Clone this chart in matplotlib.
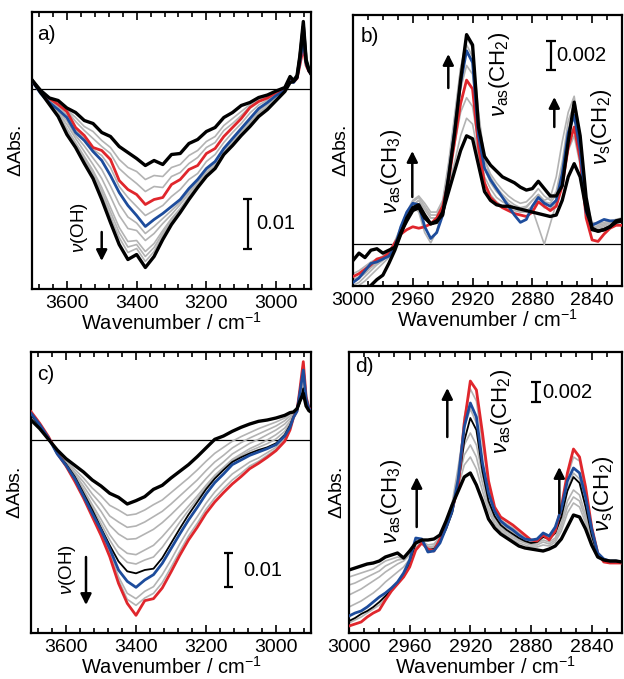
import matplotlib
matplotlib.use("Agg")
import matplotlib.pyplot as plt
from matplotlib.ticker import MultipleLocator
from matplotlib.patches import FancyArrowPatch

# ---------------------------------------------------------------
# Spectra, absorbance in units of 1e-3
# ---------------------------------------------------------------
WN_OH = [3700, 3675, 3650, 3625, 3600, 3575, 3550, 3525, 3500, 3475,
         3450, 3425, 3400, 3375, 3350, 3325, 3300, 3275, 3250, 3225,
         3200, 3175, 3150, 3125, 3100, 3075, 3050, 3025, 3000, 2975,
         2960, 2950, 2940, 2932, 2922, 2914, 2906, 2900]

WN_CH = [3000, 2996, 2992, 2988, 2984, 2980, 2976, 2972, 2968, 2964,
         2960, 2956, 2952, 2948, 2944, 2940, 2936, 2932, 2928, 2924,
         2920, 2916, 2912, 2908, 2904, 2900, 2896, 2892, 2888, 2884,
         2880, 2876, 2872, 2868, 2864, 2860, 2856, 2852, 2848, 2844,
         2840, 2836, 2832, 2828, 2824, 2820]

# panel a) OH region
A_BLACK_TOP = [1.7, -0.4, -1.9, -2.4, -3.9, -4.8, -6.4, -7.0, -8.8, -9.6,
               -11.6, -12.8, -14.0, -15.4, -14.4, -15.2, -13.2, -13.0, -11.0, -10.2,
               -8.6, -7.8, -5.8, -4.8, -3.4, -2.8, -1.8, -1.3, -0.5, 0.2,
               2.4, 1.6, 2.6, 6.5, 13.4, 5.8, 3.8, 3.0]
A_BLACK_BOT = [1.7, -0.8, -3.2, -5.6, -9.2, -11.8, -15.0, -18.0, -22.2, -26.8,
               -31.2, -34.2, -33.2, -35.8, -33.6, -30.2, -27.2, -24.8, -22.2, -19.8,
               -17.6, -16.0, -13.2, -11.4, -9.4, -7.6, -5.6, -4.2, -2.4, -0.6,
               1.2, 1.4, 2.2, 6.0, 12.4, 5.4, 3.6, 2.9]
A_RED = [1.5, -0.8, -2.0, -3.2, -4.6, -7.8, -9.4, -11.8, -12.4, -14.2,
         -18.4, -20.2, -21.2, -23.2, -22.2, -21.8, -19.2, -18.2, -16.2, -15.4,
         -13.0, -12.0, -9.6, -7.8, -6.0, -3.8, -2.6, -1.9, -0.8, -0.2,
         1.6, 1.3, 2.0, 4.6, 8.2, 4.6, 3.4, 3.0]
A_BLUE = [1.5, -1.0, -2.8, -4.2, -5.8, -8.8, -10.4, -12.6, -14.4, -17.4,
          -20.8, -23.4, -25.4, -27.6, -26.2, -25.0, -23.6, -22.2, -20.0, -18.2,
          -16.0, -14.6, -12.0, -10.0, -8.0, -6.0, -4.0, -2.8, -1.4, -0.4,
          1.4, 1.2, 2.2, 5.2, 9.6, 5.0, 3.5, 2.9]
A_GRAY = [
    [1.6, -0.6, -2.0, -2.8, -4.2, -5.8, -7.6, -8.6, -10.4, -11.8,
     -14.2, -15.8, -16.6, -18.2, -17.4, -17.6, -15.8, -15.2, -13.4, -12.4,
     -10.6, -9.6, -7.4, -6.0, -4.6, -3.2, -2.2, -1.5, -0.6, 0.0,
     1.8, 1.4, 2.2, 5.4, 10.6, 5.2, 3.6, 3.0],
    [1.6, -0.7, -2.2, -3.0, -4.4, -6.6, -8.4, -10.0, -11.6, -13.0,
     -16.0, -17.6, -19.0, -20.6, -19.6, -19.8, -17.6, -16.8, -15.0, -13.8,
     -11.8, -10.8, -8.4, -7.0, -5.4, -3.6, -2.6, -1.8, -0.8, -0.1,
     1.7, 1.3, 2.1, 5.0, 9.8, 5.0, 3.5, 3.0],
    [1.5, -0.9, -2.4, -3.6, -5.2, -8.2, -10.0, -12.2, -13.4, -15.8,
     -19.6, -21.8, -23.6, -25.4, -24.4, -23.4, -21.6, -20.2, -18.2, -17.0,
     -14.6, -13.2, -10.8, -8.8, -7.0, -4.9, -3.3, -2.3, -1.1, -0.3,
     1.5, 1.2, 2.1, 4.9, 9.0, 4.8, 3.4, 2.9],
    [1.6, -1.0, -2.9, -4.5, -6.5, -9.4, -11.5, -13.9, -16.2, -19.5,
     -23.1, -25.7, -26.9, -29.0, -27.6, -26.0, -24.4, -22.7, -20.5, -18.5,
     -16.2, -14.8, -12.2, -10.2, -8.2, -6.2, -4.2, -3.0, -1.6, -0.4,
     1.3, 1.2, 2.2, 5.3, 10.0, 5.0, 3.5, 2.9],
    [1.6, -0.9, -3.0, -4.8, -7.2, -10.0, -12.6, -15.2, -18.0, -21.6,
     -25.4, -28.0, -28.4, -30.4, -29.0, -27.0, -25.2, -23.2, -21.0, -18.8,
     -16.4, -15.0, -12.4, -10.4, -8.4, -6.4, -4.4, -3.2, -1.7, -0.5,
     1.3, 1.3, 2.2, 5.4, 10.4, 5.0, 3.5, 2.9],
    [1.6, -0.8, -3.0, -5.0, -8.0, -10.8, -13.6, -16.4, -19.8, -23.8,
     -27.8, -30.6, -30.4, -32.6, -31.0, -28.4, -26.0, -24.0, -21.6, -19.2,
     -16.8, -15.4, -12.8, -10.8, -8.8, -6.8, -4.8, -3.6, -2.0, -0.5,
     1.3, 1.4, 2.2, 5.6, 11.2, 5.2, 3.6, 2.9],
    [1.6, -0.8, -3.0, -5.2, -8.3, -11.1, -14.0, -16.9, -20.5, -24.7,
     -28.8, -31.7, -31.2, -33.6, -31.8, -28.9, -26.3, -24.2, -21.8, -19.4,
     -17.0, -15.5, -12.9, -11.0, -9.0, -7.0, -5.0, -3.8, -2.1, -0.6,
     1.2, 1.4, 2.2, 5.7, 11.5, 5.2, 3.6, 2.9],
    [1.7, -0.8, -3.1, -5.4, -8.6, -11.4, -14.4, -17.4, -21.2, -25.6,
     -29.8, -32.8, -32.0, -34.6, -32.6, -29.4, -26.6, -24.4, -22.0, -19.6,
     -17.2, -15.7, -13.0, -11.1, -9.1, -7.2, -5.2, -3.9, -2.2, -0.6,
     1.2, 1.4, 2.2, 5.8, 11.8, 5.3, 3.6, 2.9],
]

# panel b) CH region
B_BLACK_TOP = [-3.6, -3.4, -3.1, -2.8, -2.4, -2.1, -1.3, -0.4, 0.7, 1.8,
               2.5, 2.7, 2.0, 1.4, 1.6, 2.0, 4.6, 7.6, 11.2, 14.3,
               13.6, 8.0, 6.0, 5.4, 5.0, 4.6, 4.4, 4.2, 3.9, 3.7,
               3.8, 4.3, 3.8, 3.3, 3.3, 4.0, 7.0, 9.7, 7.4, 3.2,
               1.0, 0.9, 1.0, 1.2, 1.6, 1.7]
B_BLACK_BOT = [-1.1, -0.6, -0.9, -0.4, -0.3, -0.6, -0.4, -0.2, 0.8, 1.6,
               2.3, 2.5, 1.8, 1.4, 1.5, 2.2, 3.6, 5.0, 6.4, 7.4,
               7.2, 5.4, 3.6, 3.0, 2.7, 2.6, 2.6, 2.5, 2.4, 2.3,
               2.2, 2.1, 2.0, 1.9, 2.0, 3.0, 4.6, 5.5, 4.6, 2.4,
               1.1, 0.9, 1.0, 1.2, 1.5, 1.6]
B_RED = [-2.2, -2.0, -1.7, -1.4, -1.0, -0.9, -0.6, 0.1, 0.7, 1.0,
         1.2, 1.1, 1.2, 1.4, 1.8, 2.6, 4.4, 7.0, 9.6, 11.2,
         10.6, 6.6, 4.2, 3.2, 2.8, 2.5, 2.3, 2.1, 2.0, 1.9,
         2.2, 2.9, 2.6, 2.3, 2.6, 4.0, 6.6, 8.0, 5.8, 1.8,
         0.3, 0.2, 0.7, 1.1, 1.3, 1.3]
B_BLUE = [-2.6, -2.3, -1.8, -1.3, -1.2, -1.0, -0.8, -0.2, 1.2, 2.2,
          2.8, 2.7, 1.2, 0.4, 0.8, 2.0, 4.6, 7.8, 11.0, 13.2,
          12.4, 7.4, 5.2, 4.4, 3.8, 3.2, 2.6, 2.0, 1.5, 1.7,
          2.6, 3.2, 2.8, 2.6, 3.0, 4.8, 7.6, 8.8, 6.4, 2.2,
          1.3, 1.5, 1.7, 1.6, 1.6, 1.6]
B_GRAY = [
    [-2.0, -1.8, -1.5, -1.2, -1.0, -0.8, -0.5, 0.2, 1.0, 1.8,
     2.6, 3.0, 2.4, 1.8, 1.8, 2.6, 4.0, 5.6, 7.4, 8.6,
     8.2, 6.0, 4.2, 3.4, 2.9, 2.6, 2.4, 2.3, 2.2, 2.3,
     2.6, 2.9, 2.5, 2.4, 2.8, 4.2, 6.4, 7.4, 5.4, 2.2,
     1.0, 1.0, 1.1, 1.3, 1.5, 1.6],
    [-2.6, -2.3, -2.0, -1.6, -1.3, -1.0, -0.7, 0.0, 0.8, 1.8,
     2.6, 2.2, 0.8, 0.1, 0.9, 2.4, 4.6, 6.8, 9.0, 10.0,
     9.4, 6.8, 4.6, 3.8, 3.2, 2.9, 2.7, 2.5, 2.4, 2.5,
     3.0, 3.4, 2.9, 2.8, 3.4, 5.2, 7.8, 9.0, 6.6, 2.6,
     1.2, 1.1, 1.2, 1.4, 1.5, 1.6],
    [-2.4, -2.2, -1.9, -1.5, -1.2, -0.9, -0.6, 0.1, 1.0, 2.0,
     2.9, 3.2, 2.6, 2.0, 2.0, 2.8, 5.0, 7.8, 10.6, 12.2,
     11.6, 7.8, 5.2, 4.2, 3.6, 3.2, 2.8, 2.5, 2.2, 2.2,
     2.4, 1.2, 0.0, 1.4, 2.8, 4.8, 7.8, 9.4, 7.0, 2.8,
     1.4, 1.3, 1.4, 1.5, 1.6, 1.7],
    [-2.8, -2.6, -2.2, -1.8, -1.4, -1.1, -0.7, 0.2, 1.2, 2.2,
     3.0, 3.3, 2.8, 2.2, 2.2, 3.0, 5.6, 8.8, 12.0, 13.6,
     12.8, 8.8, 5.8, 4.6, 3.9, 3.4, 3.0, 2.7, 2.5, 2.6,
     3.0, 3.4, 3.0, 3.2, 4.6, 7.0, 9.0, 10.1, 7.4, 3.0,
     1.5, 1.4, 1.5, 1.6, 1.7, 1.8],
    [-3.0, -2.8, -2.5, -2.1, -1.7, -1.3, -0.9, 0.0, 1.0, 2.0,
     2.7, 3.0, 2.4, 1.8, 1.8, 2.6, 5.2, 8.4, 12.0, 14.1,
     13.4, 9.0, 5.8, 4.8, 4.2, 3.7, 3.3, 3.0, 2.8, 2.9,
     3.3, 3.8, 3.3, 3.0, 3.6, 5.6, 8.4, 9.6, 7.0, 2.6,
     1.2, 1.2, 1.3, 1.5, 1.6, 1.7],
]

# panel c) OH region
C_BLACK_TOP = [6.0, 3.4, 0.2, -3.0, -5.6, -7.6, -9.6, -12.0, -13.8, -16.0,
               -17.2, -19.2, -18.2, -17.0, -14.8, -13.6, -11.4, -9.4, -7.4, -5.0,
               -2.4, 0.2, 1.2, 2.6, 3.8, 4.8, 5.6, 6.0, 6.6, 7.4,
               8.2, 8.4, 9.4, 11.6, 14.0, 10.2, 8.8, 8.4]
C_BLACK_THIN = [7.6, 4.2, 0.6, -4.0, -7.2, -11.0, -16.0, -21.0, -26.4, -31.6,
                -36.4, -39.4, -40.0, -39.0, -38.6, -35.4, -31.0, -26.6, -22.4, -18.6,
                -14.8, -11.6, -9.0, -6.6, -5.2, -4.0, -3.0, -2.2, -1.0, 1.6,
                4.4, 7.0, 8.8, 11.2, 15.5, 10.4, 9.0, 8.6]
C_RED = [8.5, 5.0, 1.0, -4.0, -7.8, -12.4, -17.4, -23.0, -28.6, -35.0,
         -43.0, -49.0, -52.6, -48.2, -47.6, -44.4, -39.6, -34.6, -30.0, -26.2,
         -22.0, -18.6, -15.8, -13.2, -11.0, -8.6, -7.0, -5.2, -3.2, -0.4,
         3.0, 6.8, 8.8, 15.0, 23.5, 13.0, 9.6, 9.0]
C_BLUE = [8.0, 4.6, 0.6, -4.2, -7.6, -11.6, -16.8, -22.0, -27.0, -32.6,
          -39.0, -42.4, -44.2, -42.0, -40.4, -37.0, -32.6, -28.2, -24.0, -20.2,
          -16.2, -12.8, -10.2, -7.4, -6.0, -4.6, -3.6, -2.6, -1.4, 1.2,
          3.8, 6.8, 8.6, 14.0, 21.0, 12.4, 9.4, 8.8]
C_GRAY = [
    [6.4, 3.6, 0.4, -3.4, -6.2, -8.8, -11.4, -14.4, -16.8, -19.6,
     -21.0, -22.6, -22.2, -21.0, -19.4, -18.0, -15.8, -13.6, -11.4, -9.0,
     -6.4, -4.0, -2.2, -0.4, 1.0, 2.2, 3.4, 4.4, 5.4, 6.6,
     7.8, 8.2, 9.2, 12.0, 15.8, 10.8, 9.0, 8.6],
    [6.8, 3.8, 0.4, -3.6, -6.6, -9.6, -12.6, -16.2, -19.2, -22.8,
     -24.6, -26.2, -25.8, -24.6, -23.0, -21.4, -19.2, -16.8, -14.4, -12.0,
     -9.2, -6.6, -4.6, -2.4, -0.8, 0.6, 1.8, 3.0, 4.2, 5.8,
     7.2, 8.0, 9.0, 12.6, 17.0, 11.2, 9.2, 8.7],
    [7.0, 4.0, 0.5, -3.8, -6.8, -10.2, -13.8, -17.8, -21.4, -25.6,
     -28.2, -29.8, -29.6, -28.2, -26.8, -24.8, -22.4, -19.8, -17.2, -14.6,
     -11.6, -8.8, -6.6, -4.2, -2.6, -1.0, 0.2, 1.6, 3.0, 4.8,
     6.4, 7.8, 9.0, 13.0, 18.2, 11.6, 9.3, 8.8],
    [7.2, 4.0, 0.5, -3.9, -7.0, -10.6, -14.8, -19.4, -23.8, -28.4,
     -32.0, -34.0, -34.4, -33.0, -31.6, -29.0, -26.0, -22.8, -19.8, -16.8,
     -13.6, -10.6, -8.2, -5.8, -4.2, -2.6, -1.4, 0.0, 1.6, 3.6,
     5.6, 7.4, 8.9, 13.4, 19.2, 12.0, 9.4, 8.8],
    [7.4, 4.1, 0.6, -4.0, -7.1, -10.8, -15.4, -20.2, -25.1, -30.0,
     -34.2, -36.7, -37.2, -36.0, -35.1, -32.2, -28.5, -24.7, -21.1, -17.7,
     -14.2, -11.1, -8.6, -6.2, -4.7, -3.3, -2.2, -1.1, 0.3, 2.6,
     5.0, 7.2, 8.8, 12.4, 17.4, 11.0, 9.2, 8.7],
    [8.2, 4.8, 0.8, -4.1, -7.7, -12.0, -17.1, -22.6, -27.8, -33.8,
     -41.0, -46.0, -47.6, -45.4, -44.0, -40.4, -36.0, -31.2, -26.8, -23.0,
     -19.0, -15.6, -12.8, -10.2, -8.4, -6.6, -5.4, -3.8, -2.2, 0.4,
     3.4, 6.8, 8.8, 14.6, 22.4, 12.8, 9.5, 8.9],
    [8.4, 4.9, 0.9, -4.0, -7.8, -12.2, -17.3, -22.8, -28.2, -34.4,
     -42.0, -47.8, -49.6, -47.4, -46.0, -42.8, -38.2, -33.4, -28.8, -25.0,
     -20.8, -17.4, -14.6, -12.0, -10.0, -7.8, -6.4, -4.6, -2.8, 0.0,
     3.2, 6.8, 8.8, 14.8, 23.0, 12.9, 9.6, 9.0],
]

# panel d) CH region (no zero line in this panel, arbitrary offset)
D_BLACK_THICK = [6.3, 6.5, 6.7, 6.9, 7.0, 7.2, 7.6, 7.8, 8.0, 7.5,
                 8.2, 9.0, 9.3, 9.3, 9.4, 9.8, 11.2, 12.8, 14.2, 15.6,
                 16.0, 14.8, 13.2, 11.4, 10.5, 9.9, 9.5, 9.1, 8.7, 8.5,
                 8.4, 8.3, 8.2, 8.4, 8.7, 9.4, 10.6, 11.8, 11.6, 10.4,
                 8.8, 7.6, 7.3, 7.2, 7.2, 7.1]
D_BLACK_THIN = [1.2, 1.5, 1.9, 2.2, 2.6, 3.1, 3.7, 4.3, 5.0, 5.8,
                7.0, 9.0, 9.2, 8.3, 8.4, 9.2, 10.4, 12.0, 14.8, 19.2,
                21.5, 20.3, 16.2, 13.2, 11.7, 10.8, 10.3, 9.9, 9.5, 9.2,
                9.0, 9.1, 9.6, 9.4, 10.0, 11.6, 14.2, 15.6, 15.0, 12.6,
                9.8, 7.8, 7.3, 7.2, 7.2, 7.1]
D_RED = [0.7, 0.9, 1.1, 1.6, 2.0, 2.3, 3.3, 4.2, 4.9, 5.6,
         6.6, 8.3, 9.0, 8.4, 8.2, 9.4, 10.6, 12.4, 14.6, 21.0,
         25.2, 24.3, 20.0, 15.2, 12.6, 11.6, 11.2, 10.8, 10.3, 9.8,
         9.3, 9.2, 9.8, 9.3, 10.2, 12.6, 16.0, 18.4, 17.6, 14.6,
         10.6, 8.0, 7.1, 7.0, 7.0, 7.0]
D_BLUE = [1.7, 2.0, 2.2, 2.6, 3.1, 3.6, 4.0, 4.5, 5.1, 6.0,
          7.3, 9.5, 9.4, 8.1, 8.2, 9.0, 10.5, 12.2, 15.4, 20.6,
          23.0, 21.6, 17.0, 14.0, 12.2, 11.2, 10.7, 10.3, 9.8, 9.4,
          9.3, 9.4, 10.0, 9.7, 10.6, 12.4, 15.2, 16.5, 16.0, 13.6,
          10.4, 8.0, 7.4, 7.2, 7.2, 7.1]
D_GRAY = [
    [5.6, 5.8, 6.0, 6.2, 6.4, 6.8, 7.2, 7.4, 7.6, 7.4,
     8.0, 9.0, 9.2, 8.8, 8.9, 9.6, 10.8, 12.4, 14.6, 16.8,
     17.6, 16.4, 14.2, 12.2, 10.9, 10.2, 9.7, 9.3, 9.0, 8.8,
     8.6, 8.6, 8.8, 8.7, 9.1, 10.2, 12.0, 13.0, 12.6, 11.0,
     9.0, 7.7, 7.3, 7.2, 7.2, 7.1],
    [4.8, 5.0, 5.3, 5.6, 5.9, 6.2, 6.7, 7.0, 7.3, 7.4,
     8.0, 9.0, 9.2, 8.6, 8.7, 9.5, 10.9, 12.6, 15.2, 17.8,
     18.8, 17.6, 15.0, 12.6, 11.2, 10.4, 9.9, 9.5, 9.2, 9.0,
     8.8, 8.8, 9.1, 8.9, 9.3, 10.6, 12.6, 13.6, 13.2, 11.4,
     9.2, 7.8, 7.3, 7.2, 7.2, 7.1],
    [3.8, 4.1, 4.4, 4.8, 5.2, 5.6, 6.1, 6.5, 6.9, 7.2,
     7.8, 9.0, 9.3, 8.5, 8.6, 9.4, 10.9, 12.8, 15.8, 18.8,
     20.0, 18.8, 15.8, 13.0, 11.5, 10.6, 10.1, 9.7, 9.3, 9.1,
     8.9, 9.0, 9.3, 9.1, 9.5, 11.0, 13.2, 14.3, 13.8, 11.8,
     9.4, 7.8, 7.3, 7.2, 7.2, 7.1],
    [2.6, 2.9, 3.2, 3.6, 4.0, 4.5, 5.1, 5.6, 6.1, 6.6,
     7.4, 9.2, 9.4, 8.3, 8.5, 9.4, 11.0, 13.0, 16.6, 20.6,
     22.4, 21.0, 17.0, 13.8, 12.0, 11.0, 10.5, 10.1, 9.7, 9.4,
     9.2, 9.3, 9.8, 9.5, 10.0, 11.8, 14.4, 16.0, 15.4, 12.8,
     9.8, 7.9, 7.3, 7.2, 7.2, 7.1],
    [1.0, 1.3, 1.6, 2.0, 2.4, 2.8, 3.5, 4.2, 4.9, 5.6,
     6.8, 8.6, 9.1, 8.2, 8.3, 9.4, 10.8, 12.6, 15.4, 21.6,
     24.4, 23.2, 19.0, 14.8, 12.4, 11.3, 10.9, 10.5, 10.0, 9.6,
     9.3, 9.2, 9.9, 9.5, 10.1, 12.4, 15.6, 17.6, 17.2, 14.0,
     10.4, 8.0, 7.2, 7.1, 7.1, 7.0],
]

RED = "#e0262c"
BLUE = "#1d4c9c"
GRAY = "#b3b3b3"

FIG_W, FIG_H = 624, 679


def fxy(x, y):
    # pixel position measured from the top-left corner -> figure fraction
    return x / FIG_W, 1 - y / FIG_H


def rect(x0, y0, x1, y1):
    return [x0 / FIG_W, 1 - y1 / FIG_H, (x1 - x0) / FIG_W, (y1 - y0) / FIG_H]


def m(vals):
    return [v * 1e-3 for v in vals]


def style_axes(ax, xlim, ylim, major, minor, ylabel_pad):
    ax.set_xlim(*xlim)
    ax.set_ylim(ylim[0] * 1e-3, ylim[1] * 1e-3)
    ax.xaxis.set_major_locator(MultipleLocator(major))
    ax.xaxis.set_minor_locator(MultipleLocator(minor))
    ax.set_yticks([])
    ax.tick_params(axis="x", which="both", direction="in", top=True,
                   labelsize=14, pad=4, width=1.2)
    ax.tick_params(axis="x", which="major", length=6)
    ax.tick_params(axis="x", which="minor", length=3.5)
    for s in ax.spines.values():
        s.set_linewidth(1.6)
    ax.set_xlabel("Wavenumber / cm$^{-1}$", fontsize=14.5, labelpad=0)
    ax.set_ylabel(r"$\mathit{\Delta}$Abs.", fontsize=14, labelpad=ylabel_pad)


def draw_set(ax, wn, grays, red, blue, blacks_thin, blacks_thick):
    for g in grays:
        ax.plot(wn, m(g), color=GRAY, lw=1.2, zorder=2)
    for b in blacks_thin:
        ax.plot(wn, m(b), color="k", lw=1.3, zorder=3)
    ax.plot(wn, m(red), color=RED, lw=2.0, zorder=4)
    ax.plot(wn, m(blue), color=BLUE, lw=2.0, zorder=5)
    for b in blacks_thick:
        ax.plot(wn, m(b), color="k", lw=2.4, zorder=6)


def scale_bar(ax, x, y0, y1, half, label, text_x):
    kw = dict(color="k", lw=1.6, solid_capstyle="butt", zorder=7)
    ax.plot([x, x], [y0 * 1e-3, y1 * 1e-3], **kw)
    ax.plot([x - half, x + half], [y0 * 1e-3, y0 * 1e-3], **kw)
    ax.plot([x - half, x + half], [y1 * 1e-3, y1 * 1e-3], **kw)
    ax.text(text_x, (y0 + y1) / 2 * 1e-3, label, fontsize=14.5,
            ha="left", va="center")


def arrow(fig, x, y_tail, y_head):
    fig.add_artist(FancyArrowPatch(fxy(x, y_tail), fxy(x, y_head),
                                   transform=fig.transFigure,
                                   arrowstyle="-|>", mutation_scale=16,
                                   lw=1.8, color="k",
                                   shrinkA=0, shrinkB=0))


def vtext(fig, x, y, s, size=14):
    fig.text(*fxy(x, y), s, rotation=90, ha="center", va="center", fontsize=size)


def main():
    plt.rcParams["font.family"] = ["Liberation Sans", "DejaVu Sans"]
    plt.rcParams["mathtext.fontset"] = "custom"
    plt.rcParams["mathtext.rm"] = "Liberation Sans"
    plt.rcParams["mathtext.it"] = "Liberation Sans:italic"
    plt.rcParams["mathtext.bf"] = "Liberation Sans:bold"

    fig = plt.figure(figsize=(FIG_W / 100, FIG_H / 100), dpi=100)

    ax_a = fig.add_axes(rect(32, 12, 311, 289))
    ax_b = fig.add_axes(rect(353, 15, 622, 286))
    ax_c = fig.add_axes(rect(31, 352, 311, 633))
    ax_d = fig.add_axes(rect(349, 352, 622, 633))

    # a)
    draw_set(ax_a, WN_OH, A_GRAY, A_RED, A_BLUE, [], [A_BLACK_BOT, A_BLACK_TOP])
    ax_a.axhline(0, color="k", lw=0.9, zorder=1)
    style_axes(ax_a, (3700, 2900), (-40.1, 15.3), 200, 40, 5)
    scale_bar(ax_a, 3082, -32.0, -22.0, 14, "0.01", 3056)

    # b)
    draw_set(ax_b, WN_CH, B_GRAY, B_RED, B_BLUE, [], [B_BLACK_BOT, B_BLACK_TOP])
    ax_b.axhline(0, color="k", lw=0.9, zorder=1)
    style_axes(ax_b, (3000, 2820), (-2.84, 15.64), 40, 10, 2)
    scale_bar(ax_b, 2867.5, 11.9, 13.9, 3.5, "0.002", 2864)

    # c)
    draw_set(ax_c, WN_OH, C_GRAY, C_RED, C_BLUE, [C_BLACK_THIN], [C_BLACK_TOP])
    ax_c.axhline(0, color="k", lw=0.9, zorder=1)
    style_axes(ax_c, (3700, 2900), (-57.9, 26.4), 200, 40, 5)
    scale_bar(ax_c, 3136, -44.0, -34.0, 14, "0.01", 3093)

    # d)
    draw_set(ax_d, WN_CH, D_GRAY, D_RED, D_BLUE, [D_BLACK_THIN], [D_BLACK_THICK])
    style_axes(ax_d, (3000, 2820), (0.0, 28.1), 40, 10, 2)
    scale_bar(ax_d, 2876.7, 23.1, 25.1, 3.5, "0.002", 2872.5)

    # panel letters
    for (x, y), s in [((37, 35), "a)"), ((361, 37), "b)"),
                      ((37, 374), "c)"), ((355, 366), "d)")]:
        fig.text(*fxy(x, y), s, fontsize=15, ha="left", va="center")

    # band assignments and arrows
    vtext(fig, 80, 228, r"$\nu$(OH)", 13.5)
    arrow(fig, 101.7, 232, 261)
    vtext(fig, 67, 570, r"$\nu$(OH)", 13.5)
    arrow(fig, 86, 557, 605)

    vtext(fig, 500, 74, r"$\nu_{\rm as}$(CH$_2$)", 16)
    arrow(fig, 448.3, 88, 54)
    vtext(fig, 602, 127, r"$\nu_{\rm s}$(CH$_2$)", 16)
    arrow(fig, 554.3, 127, 97)
    vtext(fig, 392, 171, r"$\nu_{\rm as}$(CH$_3$)", 16)
    arrow(fig, 412.3, 197, 151)

    vtext(fig, 502, 411, r"$\nu_{\rm as}$(CH$_2$)", 16)
    arrow(fig, 447.3, 437, 388)
    vtext(fig, 604, 494, r"$\nu_{\rm s}$(CH$_2$)", 16)
    arrow(fig, 559.3, 513, 467)
    vtext(fig, 392, 501, r"$\nu_{\rm as}$(CH$_3$)", 16)
    arrow(fig, 416.7, 527, 477)

    fig.savefig("out.png", dpi=100)
    plt.close(fig)


if __name__ == "__main__":
    main()
